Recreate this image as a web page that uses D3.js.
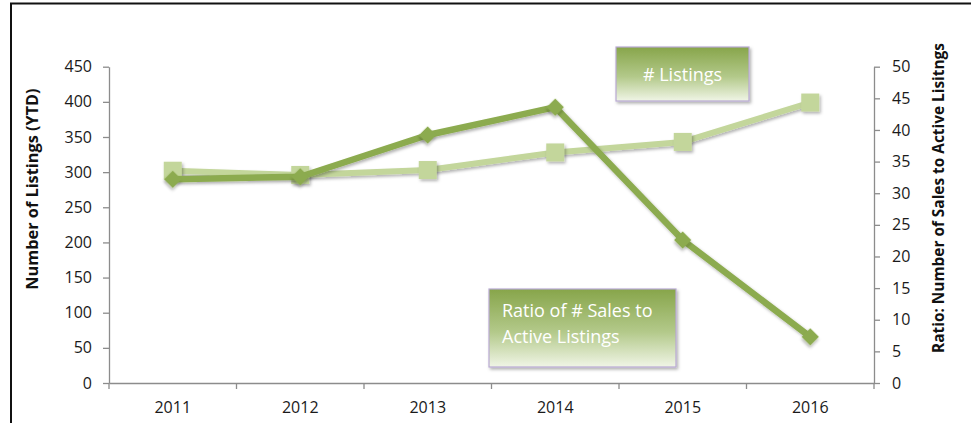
<!DOCTYPE html>
<html>
<head>
<meta charset="utf-8">
<script src="https://cdn.jsdelivr.net/npm/d3@7"></script>
<style>
  html, body { margin: 0; padding: 0; background: #fff; }
  svg { display: block; }
  text { font-family: "Open Sans", "Noto Sans", sans-serif; }
</style>
</head>
<body>
<svg id="chart" width="971" height="423"></svg>
<script>
// ---- data ----
const years = ["2011", "2012", "2013", "2014", "2015", "2016"];
const listings = [302, 296, 303, 328, 343, 399];          // left axis (# Listings)
const ratio = [32.2, 32.6, 39.2, 43.6, 22.6, 7.3];         // right axis (ratio)
const leftTicks = [0, 50, 100, 150, 200, 250, 300, 350, 400, 450];
const rightTicks = [0, 5, 10, 15, 20, 25, 30, 35, 40, 45, 50];
const leftTitle = "Number of Listings (YTD)";
const rightTitle = "Ratio: Number of Sales to Active Lisitngs";
const legendListings = ["# Listings"];
const legendRatio = ["Ratio of # Sales to", "Active Listings"];

const lightGreen = "#c3d69b";
const darkGreen = "#8cab4f";
const axisColor = "#8c8c8c";

const svg = d3.select("#chart");

// defs
const defs = svg.append("defs");
const shadow = defs.append("filter").attr("id", "shadow")
  .attr("x", "-50%").attr("y", "-50%").attr("width", "200%").attr("height", "200%");
shadow.append("feDropShadow").attr("dx", 1.5).attr("dy", 2).attr("stdDeviation", 1.5)
  .attr("flood-color", "#000").attr("flood-opacity", 0.3);
const grad = defs.append("linearGradient").attr("id", "boxgrad")
  .attr("x1", 0).attr("y1", 0).attr("x2", 0).attr("y2", 1);
grad.append("stop").attr("offset", "0%").attr("stop-color", "#87a54a");
grad.append("stop").attr("offset", "55%").attr("stop-color", "#b3c98a");
grad.append("stop").attr("offset", "100%").attr("stop-color", "#f0f5e6");

// frame
svg.append("rect").attr("x", 11).attr("y", 3.5).attr("width", 980).attr("height", 440)
  .attr("fill", "none").attr("stroke", "#111").attr("stroke-width", 2);

// scales
const x = d3.scaleBand().domain(years).range([109, 874]).padding(0);
const yL = d3.scaleLinear().domain([0, 450]).range([383, 66.7]);
const yR = d3.scaleLinear().domain([0, 50]).range([383, 66.7]);
const cx = d => x(d) + x.bandwidth() / 2;

// axes
const gL = svg.append("g").attr("transform", "translate(109,0)")
  .call(d3.axisLeft(yL).tickValues(leftTicks).tickSize(6).tickPadding(11).tickSizeOuter(0));
const gR = svg.append("g").attr("transform", "translate(874,0)")
  .call(d3.axisRight(yR).tickValues(rightTicks).tickSize(6).tickPadding(12).tickSizeOuter(0));
const gX = svg.append("g").attr("transform", "translate(0,383)")
  .call(d3.axisBottom(x).tickSize(0).tickPadding(19).tickSizeOuter(0));
// category boundary tick marks
gX.selectAll("line.bound").data(years.concat(["end"])).enter().append("line")
  .attr("class", "bound")
  .attr("x1", (d, i) => i < years.length ? x(d) : x(years[years.length - 1]) + x.bandwidth())
  .attr("x2", (d, i) => i < years.length ? x(d) : x(years[years.length - 1]) + x.bandwidth())
  .attr("y1", 0).attr("y2", 6).attr("stroke", axisColor);

[gL, gR, gX].forEach(g => {
  g.selectAll("path.domain, line").attr("stroke", axisColor).attr("stroke-width", 1.3);
  g.selectAll("text").attr("font-size", 16).attr("fill", "#1a1a1a")
    .attr("font-family", "'Open Sans', sans-serif");
});

// axis titles
svg.append("text").attr("transform", "translate(38,189) rotate(-90)")
  .attr("text-anchor", "middle").attr("font-size", 16.3).attr("font-weight", "bold")
  .attr("fill", "#111").text(leftTitle);
svg.append("text").attr("transform", "translate(944,198) rotate(-90)")
  .attr("text-anchor", "middle").attr("font-size", 15.4).attr("font-weight", "bold")
  .attr("fill", "#111").text(rightTitle);

// light series: # Listings (left axis)
const lineL = d3.line().x((d, i) => cx(years[i])).y(d => yL(d));
svg.append("path").datum(listings).attr("d", lineL)
  .attr("fill", "none").attr("stroke", lightGreen).attr("stroke-width", 6)
  .attr("stroke-linejoin", "round").attr("filter", "url(#shadow)");
svg.append("g").selectAll("rect").data(listings).enter().append("rect")
  .attr("x", (d, i) => cx(years[i]) - 9).attr("y", d => yL(d) - 9)
  .attr("width", 18).attr("height", 18)
  .attr("fill", lightGreen).attr("filter", "url(#shadow)");

// dark series: ratio (right axis)
const lineR = d3.line().x((d, i) => cx(years[i])).y(d => yR(d));
svg.append("path").datum(ratio).attr("d", lineR)
  .attr("fill", "none").attr("stroke", darkGreen).attr("stroke-width", 6.5)
  .attr("stroke-linejoin", "round").attr("filter", "url(#shadow)");
svg.append("g").selectAll("path").data(ratio).enter().append("path")
  .attr("transform", (d, i) => `translate(${cx(years[i])},${yR(d)}) rotate(45)`)
  .attr("d", d3.symbol().type(d3.symbolSquare).size(150))
  .attr("fill", darkGreen).attr("filter", "url(#shadow)");

// legend-like label boxes
function labelBox(bx, by, bw, bh, lines, tx, ty, lh, anchor) {
  const g = svg.append("g");
  g.append("rect").attr("x", bx).attr("y", by).attr("width", bw).attr("height", bh)
    .attr("fill", "url(#boxgrad)").attr("stroke", "#b8a9d2").attr("stroke-width", 1.2)
    .attr("filter", "url(#shadow)");
  g.selectAll("text").data(lines).enter().append("text")
    .attr("x", tx).attr("y", (d, i) => ty + i * lh)
    .attr("text-anchor", anchor).attr("font-size", 18).attr("fill", "#fff")
    .text(d => d);
}
labelBox(616, 47, 133, 54, legendListings, 682.5, 81, 0, "middle");
labelBox(489, 289, 187, 78, legendRatio, 502, 317, 26, "start");
</script>
</body>
</html>
